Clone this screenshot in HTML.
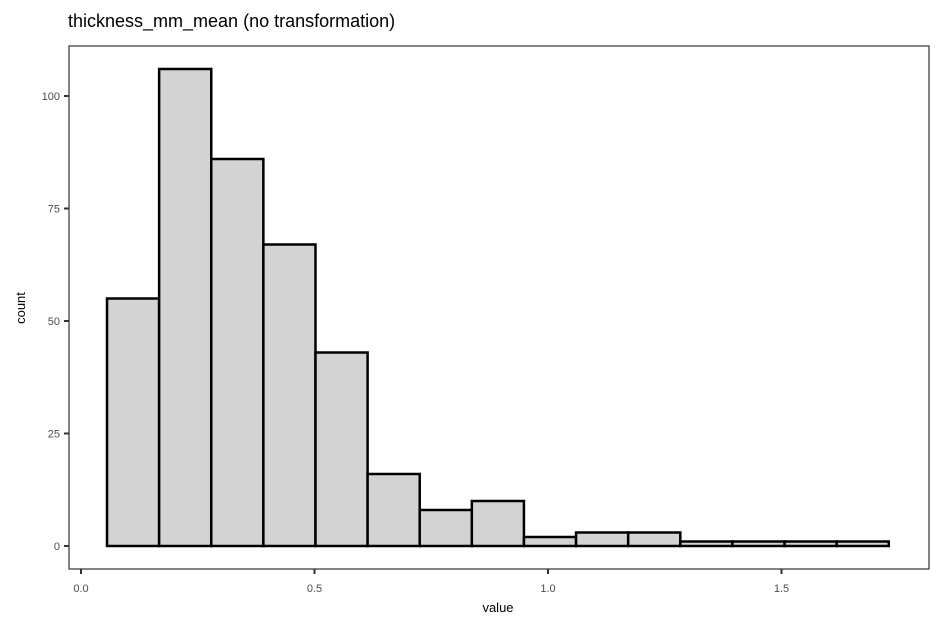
<!DOCTYPE html>
<html><head><meta charset="utf-8"><style>
body{margin:0;background:#fff;font-family:"Liberation Sans",sans-serif}
svg text{font-family:"Liberation Sans",sans-serif}
</style></head><body>
<svg id="chart" width="944" height="629">
<text x="68" y="27" font-size="18" fill="#000">thickness_mm_mean (no transformation)</text>
<rect x="69" y="46" width="860" height="523" fill="none" stroke="#333" stroke-width="1.2"/>
<g id="bars"></g>
<g id="axes"></g>
<text x="498" y="612" font-size="13" text-anchor="middle">value</text>
<text x="25" y="308" font-size="13" text-anchor="middle" transform="rotate(-90 25 308)">count</text>
</svg>
<script>
const binStart = 0.0557;
const binWidth = 0.1116;
const counts = [55,106,86,67,43,16,8,10,2,3,3,1,1,1,1];
const xTicks = [0.0,0.5,1.0,1.5];
const xTickLabels = ["0.0","0.5","1.0","1.5"];
const yTicks = [0,25,50,75,100];
const yTickLabels = ["0","25","50","75","100"];
const NS="http://www.w3.org/2000/svg";
function xs(v){return 81+v*467;}
function ys(v){return 546-v*4.5;}
const bars=document.getElementById('bars');
counts.forEach((c,i)=>{
  const r=document.createElementNS(NS,'rect');
  const x0=xs(binStart+i*binWidth), x1=xs(binStart+(i+1)*binWidth);
  r.setAttribute('x',x0);r.setAttribute('width',x1-x0);
  r.setAttribute('y',ys(c));r.setAttribute('height',ys(0)-ys(c));
  r.setAttribute('fill','#d3d3d3');r.setAttribute('stroke','#000');r.setAttribute('stroke-width','2.5');
  
  
  bars.appendChild(r);
});
const axes=document.getElementById('axes');
xTicks.forEach((t,i)=>{
  const l=document.createElementNS(NS,'line');
  l.setAttribute('x1',xs(t));l.setAttribute('x2',xs(t));l.setAttribute('y1',569);l.setAttribute('y2',574);
  l.setAttribute('stroke','#333');l.setAttribute('stroke-width','2');
  
  
  axes.appendChild(l);
  const tx=document.createElementNS(NS,'text');
  tx.setAttribute('x',xs(t));tx.setAttribute('y',592);tx.setAttribute('font-size','11');
  tx.setAttribute('text-anchor','middle');tx.setAttribute('fill','#4d4d4d');
  tx.textContent=xTickLabels[i];
  
  
  axes.appendChild(tx);
});
yTicks.forEach((t,i)=>{
  const l=document.createElementNS(NS,'line');
  l.setAttribute('x1',64);l.setAttribute('x2',69);l.setAttribute('y1',ys(t));l.setAttribute('y2',ys(t));
  l.setAttribute('stroke','#333');l.setAttribute('stroke-width','2');
  
  
  axes.appendChild(l);
  const tx=document.createElementNS(NS,'text');
  tx.setAttribute('x',60);tx.setAttribute('y',ys(t)+4);tx.setAttribute('font-size','11');
  tx.setAttribute('text-anchor','end');tx.setAttribute('fill','#4d4d4d');
  tx.textContent=yTickLabels[i];
  
  
  axes.appendChild(tx);
});
</script>
</body></html>
